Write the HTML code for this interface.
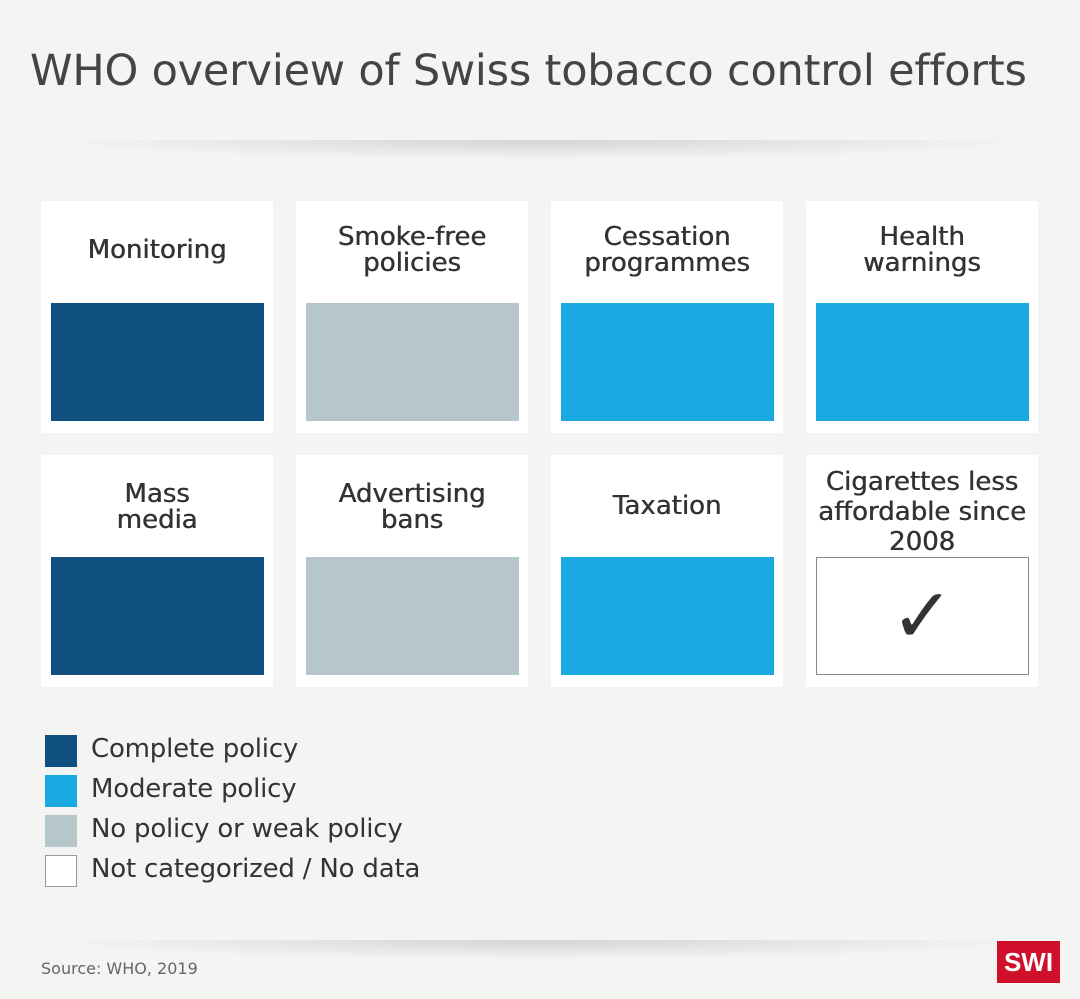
<!DOCTYPE html>
<html><head><meta charset="utf-8"><style>
body{margin:0;width:1080px;height:999px;background:#f4f4f2;font-family:"DejaVu Sans","Liberation Sans",sans-serif;color:#333;position:relative;overflow:hidden}
.t{position:absolute;left:30px;top:46px;font-size:43px;color:#444;white-space:nowrap;letter-spacing:-0.2px}
.sh{position:absolute;left:40px;width:1000px;height:20px;background:radial-gradient(ellipse at 50% 0%,rgba(0,0,0,.13),rgba(0,0,0,0) 70%)}
.c{position:absolute;width:232px;height:232px;background:#fff}
.c .l{position:absolute;left:0;right:0;text-align:center;font-size:26px;line-height:26px;color:#333;text-shadow:0.5px 0 0 #333}
.c .b{position:absolute;left:10px;top:102px;width:213px;height:118px}
.d{background:#0f5080}.m{background:#1aa9e1}.g{background:#b5c7ca}
.lg{position:absolute;left:45px;width:32px;height:32px}
.lt{position:absolute;left:91px;font-size:26px;color:#333;white-space:nowrap;letter-spacing:-0.2px}
</style></head><body>
<div class="t">WHO overview of Swiss tobacco control efforts</div>
<div class="sh" style="top:140px"></div>
<div class="c" style="left:41px;top:201px"><div class="l" style="top:36px">Monitoring</div><div class="b d"></div></div>
<div class="c" style="left:296px;top:201px"><div class="l" style="top:23px">Smoke-free<br>policies</div><div class="b g"></div></div>
<div class="c" style="left:551px;top:201px"><div class="l" style="top:23px">Cessation<br>programmes</div><div class="b m"></div></div>
<div class="c" style="left:806px;top:201px"><div class="l" style="top:23px">Health<br>warnings</div><div class="b m"></div></div>
<div class="c" style="left:41px;top:455px"><div class="l" style="top:26px">Mass<br>media</div><div class="b d"></div></div>
<div class="c" style="left:296px;top:455px"><div class="l" style="top:26px">Advertising<br>bans</div><div class="b g"></div></div>
<div class="c" style="left:551px;top:455px"><div class="l" style="top:38px">Taxation</div><div class="b m"></div></div>
<div class="c" style="left:806px;top:455px"><div class="l" style="top:12px;line-height:30px">Cigarettes less<br>affordable since<br>2008</div><div class="b" style="box-sizing:border-box;border:1px solid #888;background:#fff;text-align:center;font-size:76px;line-height:116px;color:#333">✓</div></div>
<div class="lg d" style="top:735px"></div><div class="lt" style="top:734px">Complete policy</div>
<div class="lg m" style="top:775px"></div><div class="lt" style="top:774px">Moderate policy</div>
<div class="lg g" style="top:815px"></div><div class="lt" style="top:814px">No policy or weak policy</div>
<div class="lg" style="top:855px;box-sizing:border-box;border:1px solid #999;background:#fff"></div><div class="lt" style="top:854px">Not categorized / No data</div>
<div class="sh" style="top:940px"></div>
<div style="position:absolute;left:41px;top:959px;font-size:16px;color:#666">Source: WHO, 2019</div>
<div style="position:absolute;left:997px;top:941px;width:63px;height:42px;background:#d0102a;color:#fff;font-weight:bold;font-size:26px;line-height:42px;text-align:center;font-family:'Liberation Sans',sans-serif">SWI</div>
</body></html>
